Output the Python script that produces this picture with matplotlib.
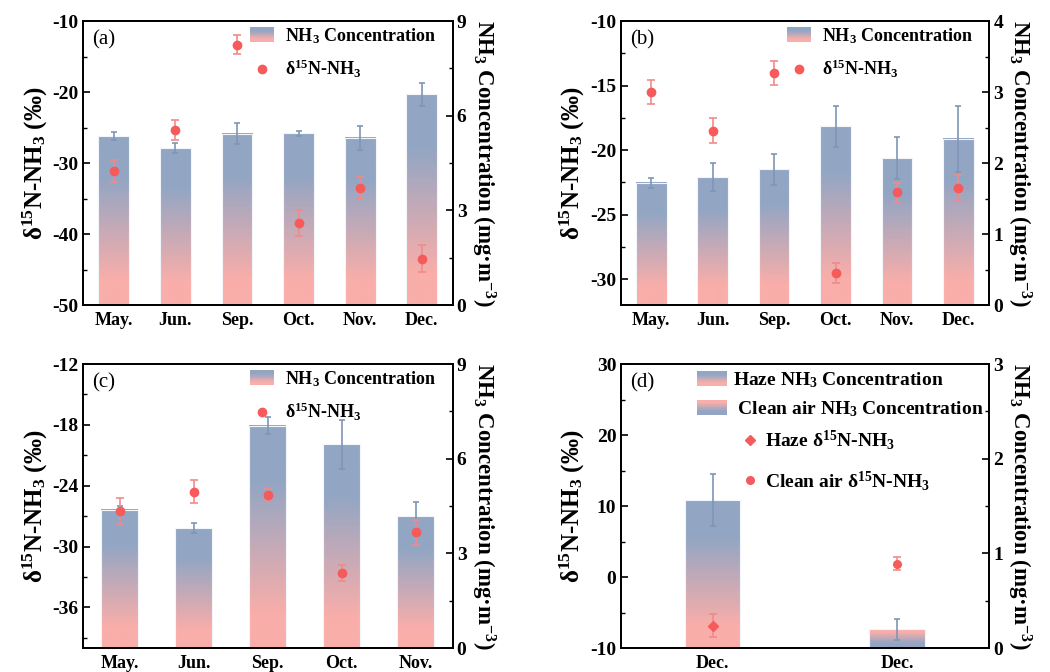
import numpy as np
import matplotlib
matplotlib.use('Agg')
import matplotlib.pyplot as plt
from matplotlib.colors import LinearSegmentedColormap
from matplotlib.patches import Rectangle
from matplotlib.legend_handler import HandlerBase
from matplotlib.lines import Line2D
from matplotlib.ticker import AutoMinorLocator

plt.rcParams['font.family'] = ['Liberation Serif', 'DejaVu Serif']
plt.rcParams['font.weight'] = 'bold'
plt.rcParams['mathtext.fontset'] = 'custom'
plt.rcParams['mathtext.rm'] = 'Liberation Serif'
plt.rcParams['mathtext.bf'] = 'Liberation Serif:bold'
plt.rcParams['mathtext.it'] = 'Liberation Serif:italic'
plt.rcParams['mathtext.default'] = 'bf'
plt.rcParams['axes.unicode_minus'] = False

##################################
#            DADOS               #
##################################

# (a)
meses_a = ['May.', 'Jun.', 'Sep.', 'Oct.', 'Nov.', 'Dec.']
conc_a = [5.35, 4.97, 5.43, 5.45, 5.30, 6.68]
conc_err_a = [0.13, 0.16, 0.33, 0.08, 0.39, 0.36]
d15_a = [-31.1, -25.3, -13.3, -38.4, -33.5, -43.5]
d15_err_a = [1.5, 1.4, 1.4, 1.8, 1.6, 1.9]

# (b)
meses_b = ['May.', 'Jun.', 'Sep.', 'Oct.', 'Nov.', 'Dec.']
conc_b = [1.72, 1.80, 1.91, 2.52, 2.07, 2.34]
conc_err_b = [0.07, 0.20, 0.22, 0.29, 0.30, 0.46]
d15_b = [-15.5, -18.5, -14.0, -29.5, -23.25, -22.9]
d15_err_b = [0.9, 0.97, 0.92, 0.77, 0.73, 0.95]

# (c)
meses_c = ['May.', 'Jun.', 'Sep.', 'Oct.', 'Nov.']
conc_c = [4.38, 3.80, 7.04, 6.46, 4.18]
conc_err_c = [0.13, 0.16, 0.27, 0.78, 0.45]
d15_c = [-26.5, -24.6, -24.9, -32.6, -28.6]
d15_err_c = [1.3, 1.13, 0.62, 0.75, 1.23]

# (d)
meses_d = ['Dec.', 'Dec.']
conc_d = [1.56, 0.197]
conc_err_d = [0.275, 0.114]
d15_d = [-6.86, 1.9]
d15_err_d = [1.6, 0.88]

##################################
#            ESTILO              #
##################################

azul = '#92a6c4'
rosa = '#f9aeaa'
vermelho = '#f65a5a'
cmap = LinearSegmentedColormap.from_list('grad', [(0, azul), (0.25, azul), (0.85, rosa), (1, rosa)])
cmap_inv = LinearSegmentedColormap.from_list('grad_inv', [(0, rosa), (0.15, rosa), (0.75, azul), (1, azul)])
grad = np.linspace(0, 1, 256).reshape(-1, 1)


class HandlerGrad(HandlerBase):
    def __init__(self, cm):
        HandlerBase.__init__(self)
        self.cm = cm

    def create_artists(self, legend, orig, xd, yd, width, height, fontsize, trans):
        n = 20
        arts = []
        for k in range(n):
            r = Rectangle((-xd, -yd + height * (1 - (k + 1) / n)), width, height / n + 0.3,
                          facecolor=self.cm(k / (n - 1)), edgecolor='none', transform=trans)
            arts.append(r)
        return arts


def gradient_bars(ax2, x, h, w, cms):
    for xi, hi, cm in zip(x, h, cms):
        ax2.imshow(grad, cmap=cm, aspect='auto', extent=[xi - w / 2, xi + w / 2, 0, hi],
                   origin='upper', zorder=1, interpolation='bilinear')
        ax2.add_patch(Rectangle((xi - w / 2, 0), w, hi, facecolor='none', edgecolor='#f2f5f9',
                                lw=0.8, zorder=2))


def painel(pos, meses, conc, conc_err, d15, d15_err, ylim, yticks, ylim2, yticks2, letra,
           w=0.5, tipo='normal'):
    ax = fig.add_axes(pos)
    ax2 = ax.twinx()
    ax.set_zorder(ax2.get_zorder() + 1)
    ax.patch.set_visible(False)
    x = np.arange(len(meses))

    if tipo == 'd':
        cms = [cmap, cmap_inv]
    else:
        cms = [cmap] * len(meses)
    gradient_bars(ax2, x, conc, w, cms)
    ax2.errorbar(x, conc, yerr=conc_err, fmt='none', ecolor='#7e96b8', elinewidth=1.2,
                 capsize=2.5, capthick=1.2, zorder=3)

    if tipo == 'd':
        ax.errorbar(x[:1], d15[:1], yerr=d15_err[:1], fmt='D', color=vermelho, ms=5,
                    ecolor='#f28a8a', elinewidth=1.2, capsize=3, capthick=1.2)
        ax.errorbar(x[1:], d15[1:], yerr=d15_err[1:], fmt='o', color=vermelho, ms=5.5,
                    ecolor='#f28a8a', elinewidth=1.2, capsize=3, capthick=1.2)
    else:
        ax.errorbar(x, d15, yerr=d15_err, fmt='o', color=vermelho, ms=6,
                    ecolor='#f28a8a', elinewidth=1.2, capsize=3, capthick=1.2)

    ax.set_xlim(-0.5, len(meses) - 0.5)
    ax2.set_xlim(-0.5, len(meses) - 0.5)
    ax.set_ylim(ylim)
    ax.set_yticks(yticks)
    ax2.set_ylim(ylim2)
    ax2.set_yticks(yticks2)
    ax.yaxis.set_minor_locator(AutoMinorLocator(2))
    ax2.yaxis.set_minor_locator(AutoMinorLocator(2))
    ax.set_xticks(x)
    ax.set_xticklabels(meses)

    for a in (ax, ax2):
        a.tick_params(axis='y', which='major', direction='in', length=5, width=1.2, labelsize=14, pad=3)
        a.tick_params(axis='y', which='minor', direction='in', length=3, width=1.0)
        a.tick_params(axis='x', length=0, labelsize=13, pad=5)
        for s in a.spines.values():
            s.set_linewidth(1.3)

    ax.set_ylabel('δ$^{15}$N-NH$_3$ (‰)', fontsize=18, fontweight='bold', labelpad=2)
    ax2.set_ylabel('NH$_3$ Concentration (mg·m$^{-3}$)', fontsize=16.5, fontweight='bold',
                   rotation=270, labelpad=22)
    ax.text(0.025, 0.935, letra, transform=ax.transAxes, fontsize=15, fontweight='normal',
            va='center', ha='left')

    if tipo == 'd':
        hb1 = Rectangle((0, 0), 1, 1)
        hb2 = Rectangle((0, 0), 1, 1)
        leg1 = ax.legend([hb1, hb2], ['Haze NH$_3$ Concentration', ' Clean air NH$_3$ Concentration'],
                         handler_map={hb1: HandlerGrad(cmap), hb2: HandlerGrad(cmap_inv)},
                         loc='upper left', bbox_to_anchor=(0.16, 1.04), frameon=False,
                         fontsize=14, handlelength=1.55, handleheight=0.8, handletextpad=0.3,
                         labelspacing=0.5)
        ax.add_artist(leg1)
        hp1 = Line2D([], [], ls='none', marker='D', color=vermelho, ms=5)
        hp2 = Line2D([], [], ls='none', marker='o', color=vermelho, ms=5.5)
        ax.legend([hp1, hp2], ['Haze δ$^{15}$N-NH$_3$', 'Clean air δ$^{15}$N-NH$_3$'],
                  loc='upper left', bbox_to_anchor=(0.278, 0.835), frameon=False,
                  fontsize=14, handlelength=0.95, handletextpad=0.3, labelspacing=0.85)
    else:
        hb = Rectangle((0, 0), 1, 1)
        hp = Line2D([], [], ls='none', marker='o', color=vermelho, ms=6)
        ax.legend([hb, hp], ['NH$_3$ Concentration', 'δ$^{15}$N-NH$_3$'],
                  handler_map={hb: HandlerGrad(cmap)}, loc='upper right',
                  bbox_to_anchor=(1.0, 1.04), frameon=False, fontsize=13,
                  handlelength=1.35, handleheight=0.85, handletextpad=0.6, labelspacing=0.7)
    return ax, ax2


fig = plt.figure(figsize=(10.5, 6.72), dpi=100, facecolor='#FFFFFF')

painel([0.079, 0.546, 0.352, 0.4226], meses_a, conc_a, conc_err_a, d15_a, d15_err_a,
       (-50, -10), [-50, -40, -30, -20, -10], (0, 9), [0, 3, 6, 9], '(a)')
painel([0.591, 0.546, 0.351, 0.4226], meses_b, conc_b, conc_err_b, d15_b, d15_err_b,
       (-32, -10), [-30, -25, -20, -15, -10], (0, 4), [0, 1, 2, 3, 4], '(b)')
painel([0.079, 0.0357, 0.352, 0.4226], meses_c, conc_c, conc_err_c, d15_c, d15_err_c,
       (-40, -12), [-36, -30, -24, -18, -12], (0, 9), [0, 3, 6, 9], '(c)')
painel([0.591, 0.0357, 0.351, 0.4226], meses_d, conc_d, conc_err_d, d15_d, d15_err_d,
       (-10, 30), [-10, 0, 10, 20, 30], (0, 3), [0, 1, 2, 3], '(d)', w=0.3, tipo='d')

plt.savefig('out.png', dpi=100)
